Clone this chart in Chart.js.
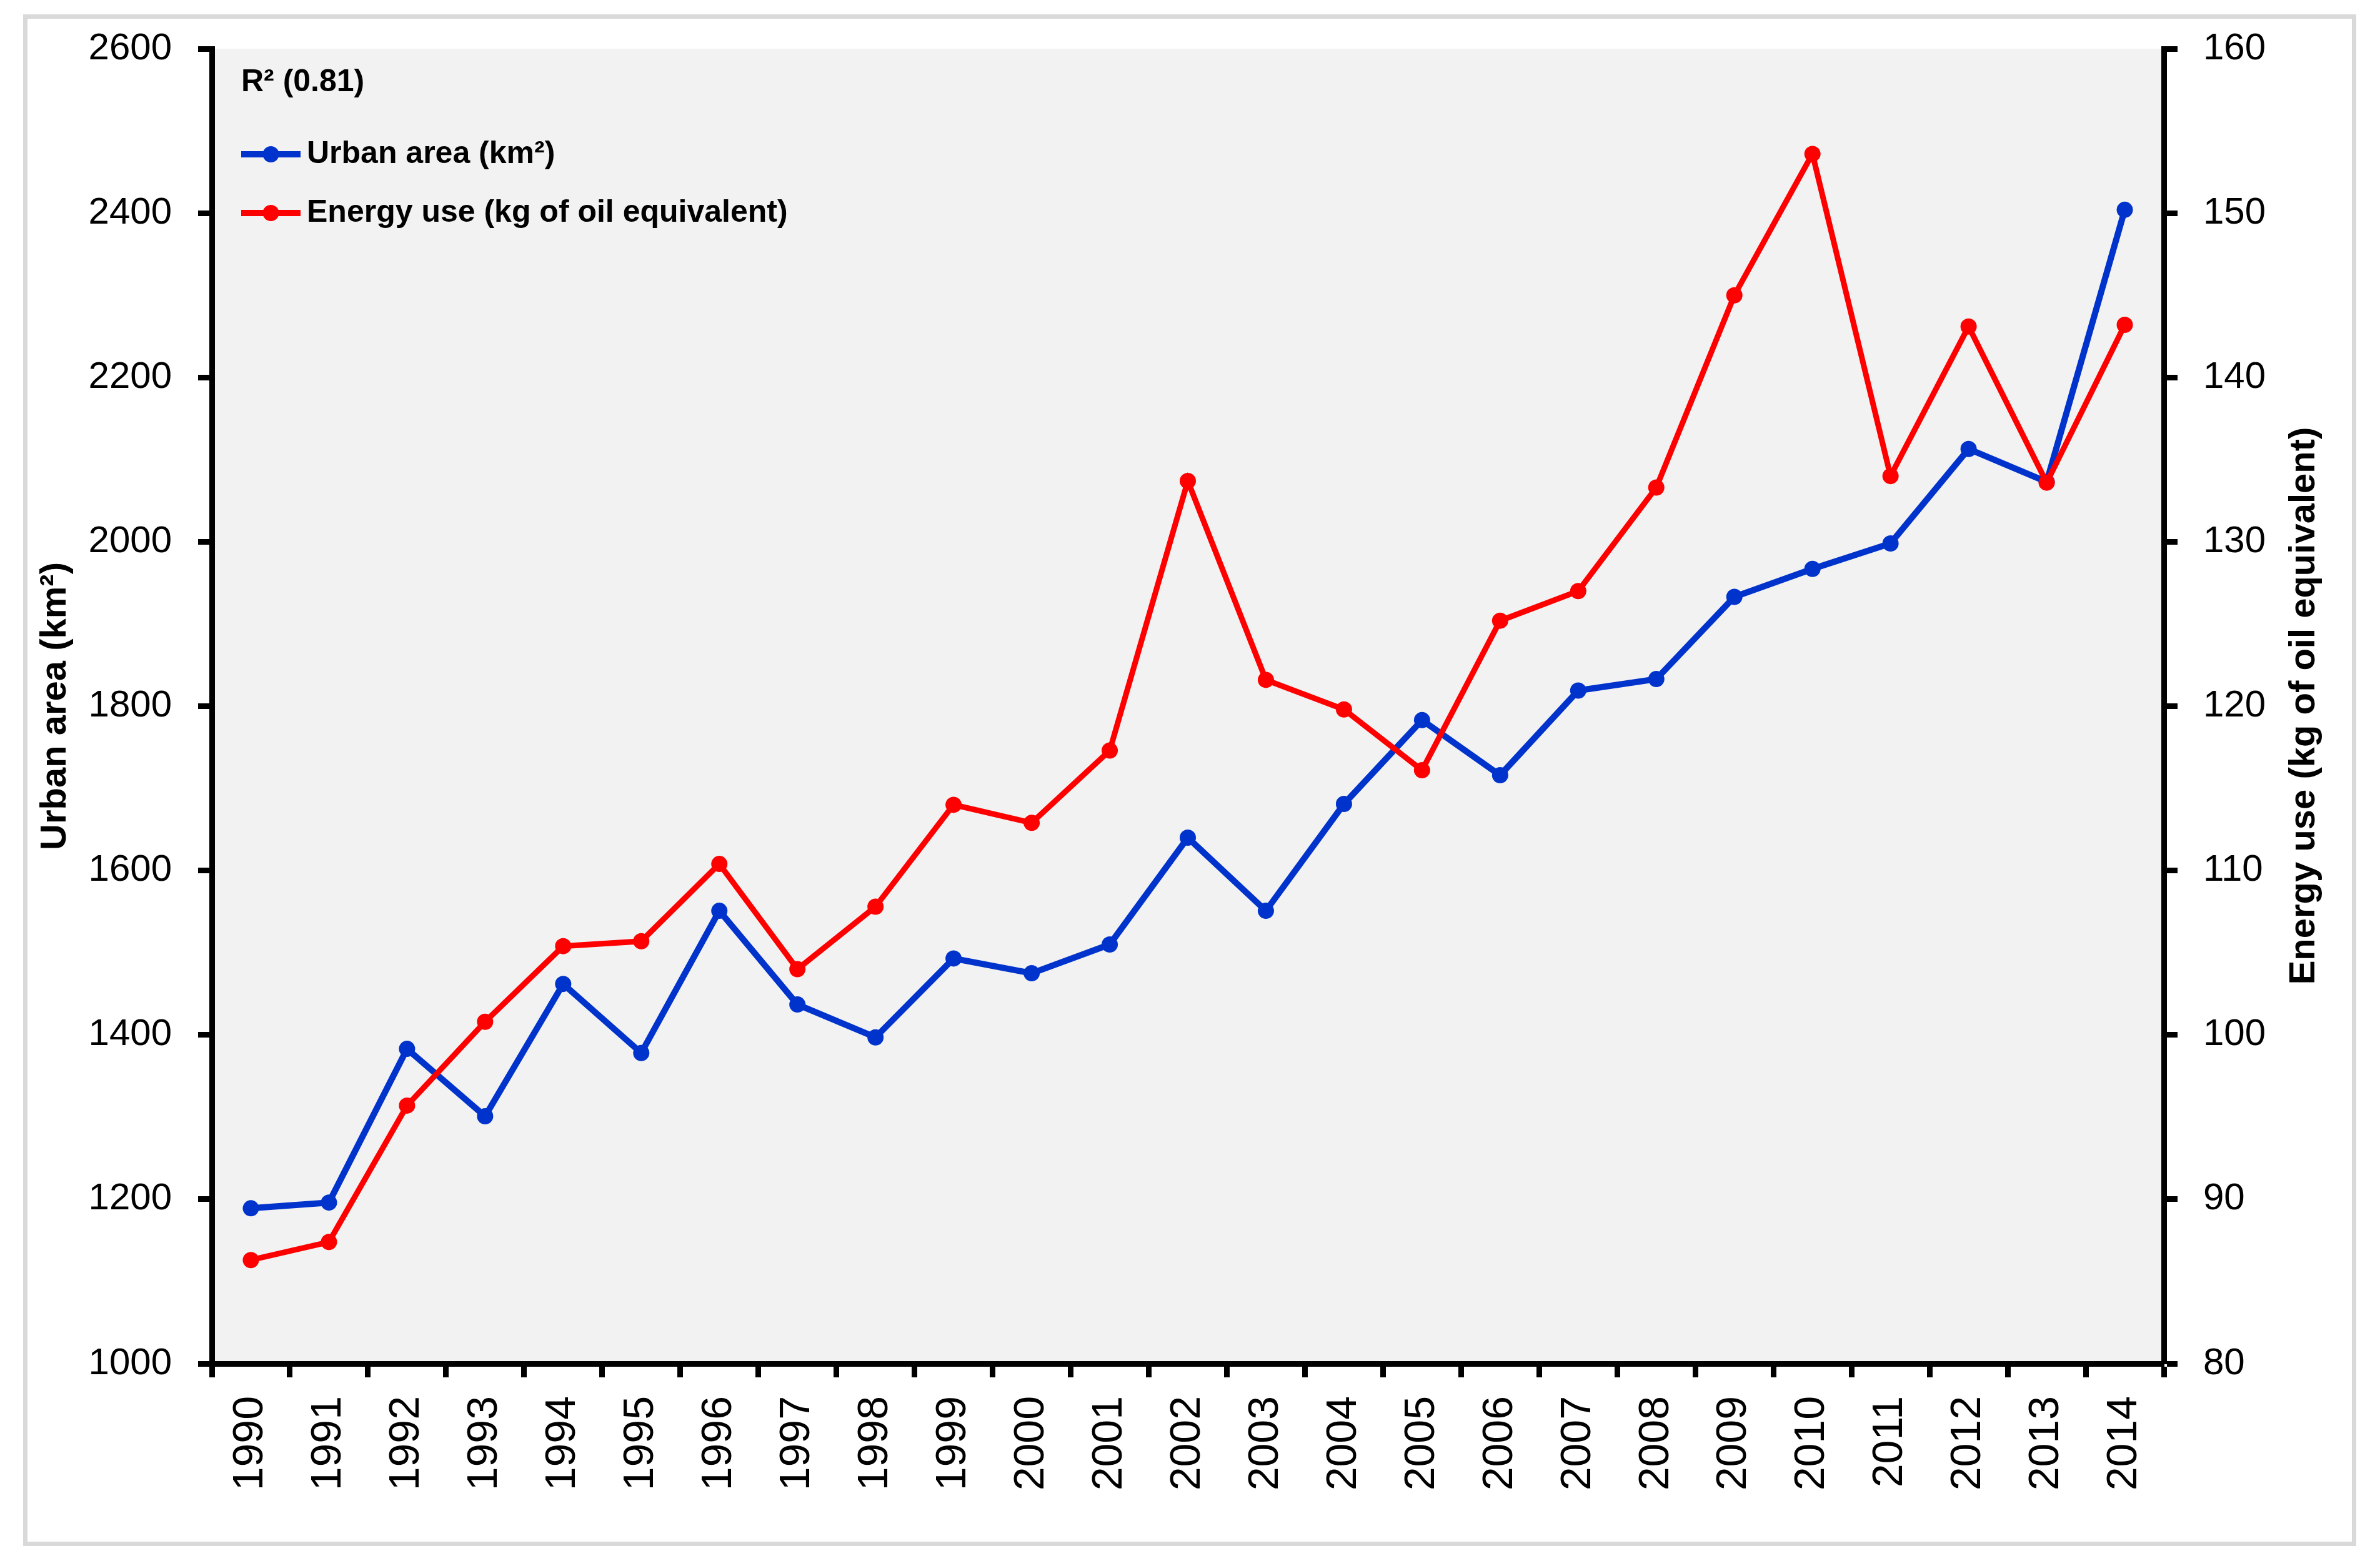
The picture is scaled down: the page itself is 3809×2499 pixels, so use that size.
<!DOCTYPE html>
<html><head><meta charset="utf-8">
<script src="https://cdn.jsdelivr.net/npm/chart.js@4.4.1/dist/chart.umd.min.js"></script>
<style>
html,body{margin:0;padding:0;background:#fff;width:3809px;height:2499px;overflow:hidden;}
#frame{position:absolute;left:37px;top:23px;width:3734px;height:2452px;border:7px solid #d9d9d9;box-sizing:border-box;}
#wrap{position:absolute;left:0;top:0;width:3809px;height:2499px;}
</style></head><body>
<div id="frame"></div>
<div id="wrap"><canvas id="c" width="3809" height="2499"></canvas></div>
<script>
const years = ['1990','1991','1992','1993','1994','1995','1996','1997','1998','1999','2000','2001','2002','2003','2004','2005','2006','2007','2008','2009','2010','2011','2012','2013','2014'];
const urbanArea = [1189,1196,1383,1301,1462,1378,1551,1437,1397,1493,1475,1510,1640,1551,1681,1783,1716,1819,1833,1933,1967,1998,2113,2073,2404];
const energyUse = [86.3,87.4,95.7,100.8,105.4,105.7,110.4,104.0,107.8,114.0,112.9,117.3,133.7,121.6,119.8,116.1,125.2,127.0,133.3,145.0,153.6,134.0,143.1,133.6,143.2];
const leftTickValues = [1000,1200,1400,1600,1800,2000,2200,2400,2600];
const rightTickValues = [80,90,100,110,120,130,140,150,160];
const urbanLabel = 'Urban area (km²)';
const energyLabel = 'Energy use (kg of oil equivalent)';
const leftTitle = 'Urban area (km²)';
const rightTitle = 'Energy use (kg of oil equivalent)';
const r2Text = 'R² (0.81)';

const BLUE = '#0033cc';
const RED = '#ff0000';
const FONT = 'Liberation Sans';

const bgPlugin = {
  id: 'bg',
  beforeDraw(chart) {
    const {ctx, chartArea: a} = chart;
    ctx.save();
    ctx.fillStyle = '#f2f2f2';
    ctx.fillRect(a.left, a.top, a.right - a.left, a.bottom - a.top);
    ctx.restore();
  }
};

const annoPlugin = {
  id: 'anno',
  afterDraw(chart) {
    const {ctx} = chart;
    ctx.save();
    ctx.font = 'bold 58px "' + FONT + '"';
    ctx.fillStyle = '#000';
    ctx.textAlign = 'center';
    ctx.textBaseline = 'middle';
    ctx.translate(3688, 1130);
    ctx.rotate(-Math.PI / 2);
    ctx.fillText(rightTitle, 0, 0);
    ctx.restore();

    ctx.save();
    ctx.font = 'bold 50px "' + FONT + '"';
    ctx.fillStyle = '#000';
    ctx.textAlign = 'left';
    ctx.textBaseline = 'middle';
    ctx.fillText(r2Text, 386, 132);
    const items = [chart.data.datasets[1], chart.data.datasets[0]];
    const ys = [247, 341];
    items.forEach((ds, i) => {
      const y = ys[i];
      ctx.strokeStyle = ds.borderColor;
      ctx.lineWidth = 10;
      ctx.beginPath();
      ctx.moveTo(386, y);
      ctx.lineTo(481, y);
      ctx.stroke();
      ctx.fillStyle = ds.borderColor;
      ctx.beginPath();
      ctx.arc(433.5, y, 13, 0, Math.PI * 2);
      ctx.fill();
      ctx.fillStyle = '#000';
      ctx.fillText(ds.label, 491, y);
    });
    ctx.restore();
  }
};

new Chart(document.getElementById('c'), {
  type: 'line',
  data: {
    labels: years,
    datasets: [
      {
        label: energyLabel,
        data: energyUse,
        yAxisID: 'y2',
        borderColor: RED,
        backgroundColor: RED,
        pointBackgroundColor: RED,
        pointBorderColor: RED,
        borderWidth: 9,
        pointRadius: 13,
        pointBorderWidth: 0,
        tension: 0,
        order: 1
      },
      {
        label: urbanLabel,
        data: urbanArea,
        yAxisID: 'y',
        borderColor: BLUE,
        backgroundColor: BLUE,
        pointBackgroundColor: BLUE,
        pointBorderColor: BLUE,
        borderWidth: 10,
        pointRadius: 13,
        pointBorderWidth: 0,
        tension: 0,
        order: 2
      }
    ]
  },
  options: {
    responsive: false,
    animation: false,
    layout: {padding: {top: 76, left: 0, right: 0, bottom: 0}},
    plugins: {legend: {display: false}, tooltip: {enabled: false}, title: {display: false}},
    scales: {
      x: {
        type: 'category',
        offset: true,
        grid: {offset: true, drawOnChartArea: false, drawTicks: true, tickLength: 22, tickWidth: 9, tickColor: '#000'},
        border: {display: true, width: 9, color: '#000'},
        ticks: {autoSkip: false, minRotation: 90, maxRotation: 90, padding: 30, color: '#000', font: {family: FONT, size: 68}},
        afterFit(s) { s.height = 316; }
      },
      y: {
        position: 'left',
        min: 1000, max: 2600,
        afterBuildTicks(s) { s.ticks = leftTickValues.map(v => ({value: v})); },
        grid: {drawOnChartArea: false, drawTicks: true, tickLength: 22, tickWidth: 9, tickColor: '#000'},
        border: {display: true, width: 9, color: '#000'},
        ticks: {padding: 42, color: '#000', font: {family: FONT, size: 60}, callback: v => String(v)},
        title: {display: true, text: leftTitle, color: '#000', padding: {top: 54, bottom: 0}, font: {family: FONT, size: 58, weight: 'bold'}},
        afterFit(s) { s.width = 339; }
      },
      y2: {
        position: 'right',
        min: 80, max: 160,
        afterBuildTicks(s) { s.ticks = rightTickValues.map(v => ({value: v})); },
        grid: {drawOnChartArea: false, drawTicks: true, tickLength: 22, tickWidth: 9, tickColor: '#000'},
        border: {display: true, width: 9, color: '#000'},
        ticks: {padding: 41, color: '#000', font: {family: FONT, size: 60}, callback: v => String(v)},
        afterFit(s) { s.width = 346; }
      }
    }
  },
  plugins: [bgPlugin, annoPlugin]
});
</script>
</body></html>
